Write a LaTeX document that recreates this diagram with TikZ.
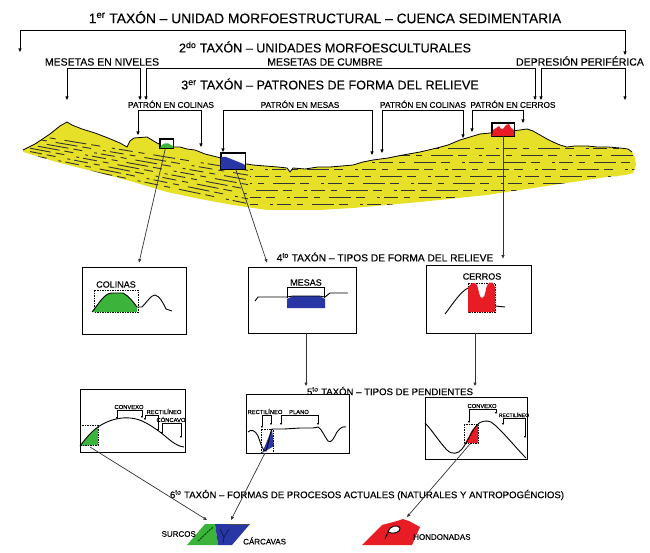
\documentclass[tikz,border=0pt]{standalone}
\usepackage{fontspec}
\setmainfont{Liberation Sans}[FakeBold=0.3]
\usepackage{tikz}
\usetikzlibrary{arrows.meta}
\definecolor{landyellow}{RGB}{230,224,40}
\definecolor{hillgreen}{RGB}{60,180,60}
\definecolor{mesablue}{RGB}{40,55,165}
\definecolor{cerrored}{RGB}{232,28,36}
\newcommand{\taxon}[2]{#1\textsuperscript{#2} TAXÓN}
\newcommand{\landtop}{(23,150) -- (35,144) -- (50,134) -- (60,126) -- (67,122) -- (72,125) -- (82,129) -- (95,133) -- (108,138) -- (120,143) -- (127,147) -- (130,141) -- (134,138) -- (147,137) -- (152,140) -- (157,143) -- (163,146) -- (172,147) -- (180,147) -- (187,149) -- (195,150) -- (205,154) -- (217,157) -- (228,160) -- (240,163) -- (253,165) -- (265,166) -- (278,167) -- (287,168) -- (290,172) -- (293,168) -- (305,169) -- (318,167) -- (330,167) -- (342,166) -- (353,165) -- (363,162) -- (373,160) -- (388,158) -- (403,155) -- (420,152) -- (437,148) -- (448,145) -- (460,140) -- (470,137) -- (480,134) -- (490,133) -- (500,132) -- (512,131) -- (520,130) -- (527,129) -- (533,131) -- (540,135) -- (547,139) -- (553,142) -- (560,145) -- (567,147) -- (575,146) -- (587,146) -- (597,147) -- (608,147) -- (620,148) -- (628,149) -- (632,152)}
\newcommand{\landpath}{\landtop -- (635,158) -- (636,165) -- (633,173) -- (625,175) -- (600,178) -- (553,185) -- (487,195) -- (420,202) -- (353,208) -- (320,210) -- (267,210) -- (233,205) -- (200,199) -- (167,192) -- (130,181) -- (100,173) -- (60,163) -- (23,152) -- cycle}
\tikzset{
    title/.style={font=\fontsize{13}{15}\selectfont, inner sep=0pt},
    subtitle/.style={font=\fontsize{9.6}{11}\selectfont, inner sep=0pt},
    lvl2/.style={font=\fontsize{10.5}{12}\selectfont, anchor=south, inner xsep=0pt, inner ysep=2.2pt, text depth=0pt},
    lvl3/.style={font=\fontsize{8.3}{10}\selectfont, anchor=south, inner xsep=0pt, inner ysep=2pt, text depth=0pt},
    boxlbl/.style={font=\fontsize{9}{11}\selectfont, anchor=south, inner xsep=0pt, inner ysep=1.2pt, text depth=0pt},
    tinylbl/.style={font=\fontsize{5.8}{7}\selectfont, anchor=south, inner xsep=0pt, inner ysep=0.8pt, text depth=0pt},
    lbl6/.style={font=\fontsize{8}{10}\selectfont, inner sep=0pt},
    panel/.style={draw, fill=white, line width=0.8pt, inner sep=0pt},
    mini/.style={draw, fill=white, line width=0.6pt, inner sep=0pt},
    brk/.style={<->, line width=0.7pt},
    tbrk/.style={<->, >={Triangle[length=2pt,width=2pt]}, line width=0.5pt},
    plainbrk/.style={line width=0.6pt},
    link/.style={->, line width=0.7pt, black!80},
    relief/.style={line width=0.9pt},
    guide/.style={line width=0.5pt, dash pattern=on 1.5pt off 1pt},
    strata/.style={line width=0.9pt, black!80, dash pattern=on 14pt off 6pt on 6pt off 9pt on 22pt off 5pt on 9pt off 12pt on 3pt off 4pt}
}
\begin{document}
\begin{tikzpicture}[x=1pt, y=-1pt, >={Triangle[length=3.5pt,width=3pt]}]
\useasboundingbox (0,0) rectangle (650,553);

% 1st and 2nd level
\node[title, font=\fontsize{13.8}{16}\selectfont, anchor=south, inner ysep=6.5pt] (tax1) at (325,30) {\taxon{1}{er} – UNIDAD MORFOESTRUCTURAL – CUENCA SEDIMENTARIA};
\coordinate (unit-l) at (20,52);
\coordinate (unit-r) at (625,55);
\draw[brk] (unit-l) |- (unit-r |- tax1.south) -- (unit-r);

\node[title, font=\fontsize{12.6}{15}\selectfont] (tax2) at (325,47) {\taxon{2}{do} – UNIDADES MORFOESCULTURALES};
\node[lvl2] (mniv) at (102,68) {MESETAS EN NIVELES};
\node[lvl2] (mcum) at (325,68) {MESETAS DE CUMBRE};
\node[lvl2] (dper) at (580,68) {DEPRESIÓN PERIFÉRICA};
\coordinate (mniv-a) at (67,100);
\coordinate (mniv-b) at (140,100);
\coordinate (mcum-a) at (146,100);
\coordinate (mcum-b) at (535,100);
\coordinate (dper-a) at (541,100);
\coordinate (dper-b) at (625,100);

% 3rd level
\node[title, font=\fontsize{12.6}{15}\selectfont] (tax3) at (330,84) {\taxon{3}{er} – PATRONES DE FORMA DEL RELIEVE};
\node[lvl3] (pcol1) at (171,110) {PATRÓN EN COLINAS};
\node[lvl3] (pmes) at (300,110) {PATRÓN EN MESAS};
\node[lvl3] (pcol2) at (423,110) {PATRÓN EN COLINAS};
\node[lvl3] (pcer) at (513,110) {PATRÓN EN CERROS};
\coordinate (pcol1-a) at (138,135);
\coordinate (pcol1-b) at (201,147);
\coordinate (pmes-a) at (223,152);
\coordinate (pmes-b) at (372,155);
\coordinate (pcol2-a) at (382,153);
\coordinate (pcol2-b) at (463,138);
\coordinate (pcer-a) at (472,132);
\coordinate (pcer-b) at (523,123);

\foreach \n in {mniv,mcum,dper,pcol1,pmes,pcol2,pcer}
    \draw[brk] (\n-a) |- (\n-b |- \n.south) -- (\n-b);

% landscape
\fill[landyellow] \landpath;
\begin{scope}
    \clip \landpath;
    \foreach \i [evaluate=\i as \ph using int(9*\i)] in {0,...,7}
        \draw[strata, dash phase=\ph pt] (30,{133+(\i+0.5)*3.375}) -- (248,{168+(\i+0.5)*4.75});
    \foreach \y [count=\i, evaluate=\i as \ph using int(17*\i)] in {148,155,...,204}
        \draw[strata, dash phase=\ph pt] (250,\y) -- (640,\y);
\end{scope}
\draw[line width=0.8pt] \landtop;

\node[mini, minimum width=13, minimum height=9] (gmini) at (166.5,143.5) {};
\fill[hillgreen] (160,148) -- (161,146) .. controls (163,143) and (168,142) .. (171,145) -- (173,146) -- (173,148) -- cycle;
\draw[line width=0.6pt] (gmini.south west) rectangle (gmini.north east);
\node[mini, minimum width=24, minimum height=16] (bmini) at (233,161) {};
\fill[mesablue] (221,157) -- (226,157) -- (231,159) -- (236,161) -- (241,163) -- (245,165) -- (245,169) -- (221,169) -- cycle;
\draw[line width=0.6pt] (bmini.south west) rectangle (bmini.north east);
\node[mini, minimum width=22, minimum height=13] (rmini) at (503,129.5) {};
\fill[cerrored] (492,136) -- (493,130) -- (496,128) -- (499,126) -- (501,129) -- (503,129) -- (506,125) -- (509,124) -- (511,128) -- (514,130) -- (514,136) -- cycle;
\draw[line width=0.6pt] (rmini.south west) rectangle (rmini.north east);

% 4th level
\node[subtitle, font=\fontsize{10.2}{12}\selectfont] (tax4) at (385,257) {\taxon{4}{to} – TIPOS DE FORMA DEL RELIEVE};
\node[panel, minimum width=104, minimum height=67] (colbox) at (134,300.5) {};
\node[panel, minimum width=108, minimum height=66] (mesbox) at (302,300) {};
\node[panel, minimum width=105, minimum height=68] (cerbox) at (478.5,299) {};

\draw[link] (gmini) -- ([xshift=5pt,yshift=4pt]colbox.north);
\draw[link] (bmini) -- ([xshift=-35pt,yshift=4pt]mesbox.north);
\draw[link] (rmini) -- ([xshift=24.5pt,yshift=6pt]cerbox.north);

% colinas
\node[boxlbl] (colname) at (116,289) {COLINAS};
\draw[guide] (94,290) rectangle (138,312);
\fill[hillgreen] (92,312) .. controls (98,305) and (104,293) .. (112,293) -- (123,293) .. controls (129,296) and (134,303) .. (137,307) -- (137,312) -- cycle;
\draw[relief] (92,312) .. controls (98,305) and (104,293) .. (112,293) -- (123,293) .. controls (129,296) and (134,303) .. (137,307) -- (142,307) .. controls (147,302) and (151,295) .. (155,295) .. controls (160,296) and (163,303) .. (166,309) -- (172,311);

% mesas
\node[boxlbl] (mesname) at (306,287) {MESAS};
\coordinate (mesname-a) at (287,298);
\coordinate (mesname-b) at (324,298);
\draw[plainbrk] (mesname-a) |- (mesname-b |- mesname.south) -- (mesname-b);
\fill[mesablue] (287,299) -- (293,296) -- (319,296) -- (325,299) -- (325,308) -- (287,308) -- cycle;
\draw[relief] (255,301) -- (258,297) -- (287,297) -- (293,296) -- (319,296) -- (325,297) -- (330,293) -- (348,293);

% cerros
\node[boxlbl] (cername) at (482,281) {CERROS};
\draw[guide] (468,283) rectangle (495,312);
\fill[cerrored] (468,312) -- (468,288) .. controls (470,283) and (475,281) .. (477,285) .. controls (479,290) and (479,298) .. (482,298) .. controls (486,298) and (485,287) .. (488,284) .. controls (490,281) and (494,282) .. (495,287) -- (495,312) -- cycle;
\draw[relief] (445,314) .. controls (452,305) and (460,292) .. (468,288);
\draw[relief] (495,306) -- (505,307);

% 5th level
\coordinate (tax5-l) at (306,386);
\coordinate (tax5-r) at (475,386);
\draw[link] ([xshift=4pt]mesbox.south) -- (tax5-l);
\draw[link] ([xshift=-3.5pt]cerbox.south) -- (tax5-r);
\node[subtitle] (tax5) at (390,391) {\taxon{5}{to} – TIPOS DE PENDIENTES};
\node[panel, minimum width=105, minimum height=63] (slopeA) at (132.5,420.5) {};
\node[panel, minimum width=103, minimum height=59] (slopeB) at (297.5,424) {};
\node[panel, minimum width=102, minimum height=62] (slopeC) at (476,428) {};

% slope A
\fill[hillgreen] (80,446) .. controls (86,438) and (92,431) .. (98,427) -- (98,445) -- cycle;
\draw[guide] (80,425) rectangle (98,445);
\draw[relief] (80,446) .. controls (86,438) and (92,431) .. (98,427) .. controls (108,420) and (120,417) .. (130,418) .. controls (142,419) and (150,425) .. (160,432) .. controls (168,438) and (175,446) .. (184,447);
\node[tinylbl] (a-cvx) at (129,410) {CONVEXO};
\node[tinylbl] (a-rec) at (164,415) {RECTILÍNEO};
\node[tinylbl] (a-conc) at (171,423) {CÓNCAVO};
\coordinate (a-cvx-a) at (117,419);
\coordinate (a-cvx-b) at (142,418);
\coordinate (a-rec-a) at (145,420);
\coordinate (a-rec-b) at (158,431);
\coordinate (a-conc-a) at (162,434);
\coordinate (a-conc-b) at (181,438);

% slope B
\fill[mesablue] (262,453) -- (272,429) -- (274,446) -- cycle;
\draw[guide] (261,429) rectangle (273,453);
\draw[relief] (248,432) .. controls (251,429) and (255,430) .. (258,436) .. controls (261,444) and (263,452) .. (266,451) .. controls (268,446) and (270,432) .. (272,429) -- (284,429) -- (300,428) -- (313,428) -- (318,427) .. controls (322,429) and (324,436) .. (328,441) .. controls (331,444) and (334,438) .. (337,432) .. controls (340,428) and (343,426) .. (346,427);
\node[tinylbl] (b-rec) at (265,415) {RECTILÍNEO};
\node[tinylbl] (b-pla) at (299,415) {PLANO};
\coordinate (b-rec-a) at (262,428);
\coordinate (b-rec-b) at (271,425);
\coordinate (b-pla-a) at (281,425);
\coordinate (b-pla-b) at (318,425);

% slope C
\fill[cerrored] (465,443) -- (468,438) -- (472,430) -- (477,425) -- (478,424) -- (478,443) -- cycle;
\draw[guide] (464,424) rectangle (478,443);
\draw[relief] (425,423) .. controls (432,430) and (440,443) .. (447,450) .. controls (452,455) and (458,454) .. (462,449) .. controls (467,443) and (472,430) .. (477,425) .. controls (480,421) and (487,420) .. (491,422) .. controls (500,428) and (515,447) .. (526,458);
\node[tinylbl] (c-cvx) at (482,409) {CONVEXO};
\node[tinylbl, font=\fontsize{5}{6}\selectfont] (c-rec) at (514,418) {RECTILÍNEO};
\coordinate (c-cvx-a) at (469,423);
\coordinate (c-cvx-b) at (496,414);
\coordinate (c-rec-a) at (503,425);
\coordinate (c-rec-b) at (525,438);

\foreach \n in {a-cvx,a-rec,a-conc,b-rec,b-pla,c-cvx,c-rec}
    \draw[tbrk] (\n-a) |- (\n-b |- \n.south) -- (\n-b);

% 6th level
\node[subtitle] (tax6) at (367,495) {\taxon{6}{to} – FORMAS DE PROCESOS ACTUALES (NATURALES Y ANTROPOGÉNCIOS)};
\coordinate (a-tri) at (90,447);
\coordinate (b-tri) at (265,453);
\coordinate (c-tri) at (470,444);
\coordinate (surc-in) at (207,520);
\coordinate (carc-in) at (231,520);
\coordinate (hond-in) at (407,517);
\draw[link] (a-tri) -- (surc-in);
\draw[link] (b-tri) -- (carc-in);
\draw[link] (c-tri) -- (hond-in);

\fill[hillgreen] (187,545) -- (205,524) -- (215,524) -- (218,545) -- cycle;
\fill[mesablue] (215,524) -- (250,524) -- (232,545) -- (218,545) -- cycle;
\draw[green!35!black, line width=1.2pt, dash pattern=on 2pt off 1pt] (198,541) -- (213,527);
\draw[mesablue!45!black, line width=0.7pt] (220,529) -- (224,537) -- (229,529) (224,537) -- (223,543);
\draw[black!70, line width=0.7pt] (228,524) -- (249,524);
\node[lbl6, anchor=east] (surcos) at (196,534) {SURCOS};
\node[lbl6, anchor=west] (carcavas) at (243,541) {CÁRCAVAS};

\fill[cerrored] (362,545) -- (372,535) -- (382,525) -- (397,521) -- (403,519) -- (409,521) -- (420,527) -- (412,545) -- cycle;
\filldraw[fill=white, line width=0.9pt] (388,532) .. controls (389,526) and (398,524) .. (400,528) .. controls (401,532) and (393,535) .. (388,532) -- cycle;
\draw[line width=0.9pt] (388,532) -- (385,539);
\node[lbl6, anchor=west] (hond) at (413,537) {HONDONADAS};
\end{tikzpicture}
\end{document}
